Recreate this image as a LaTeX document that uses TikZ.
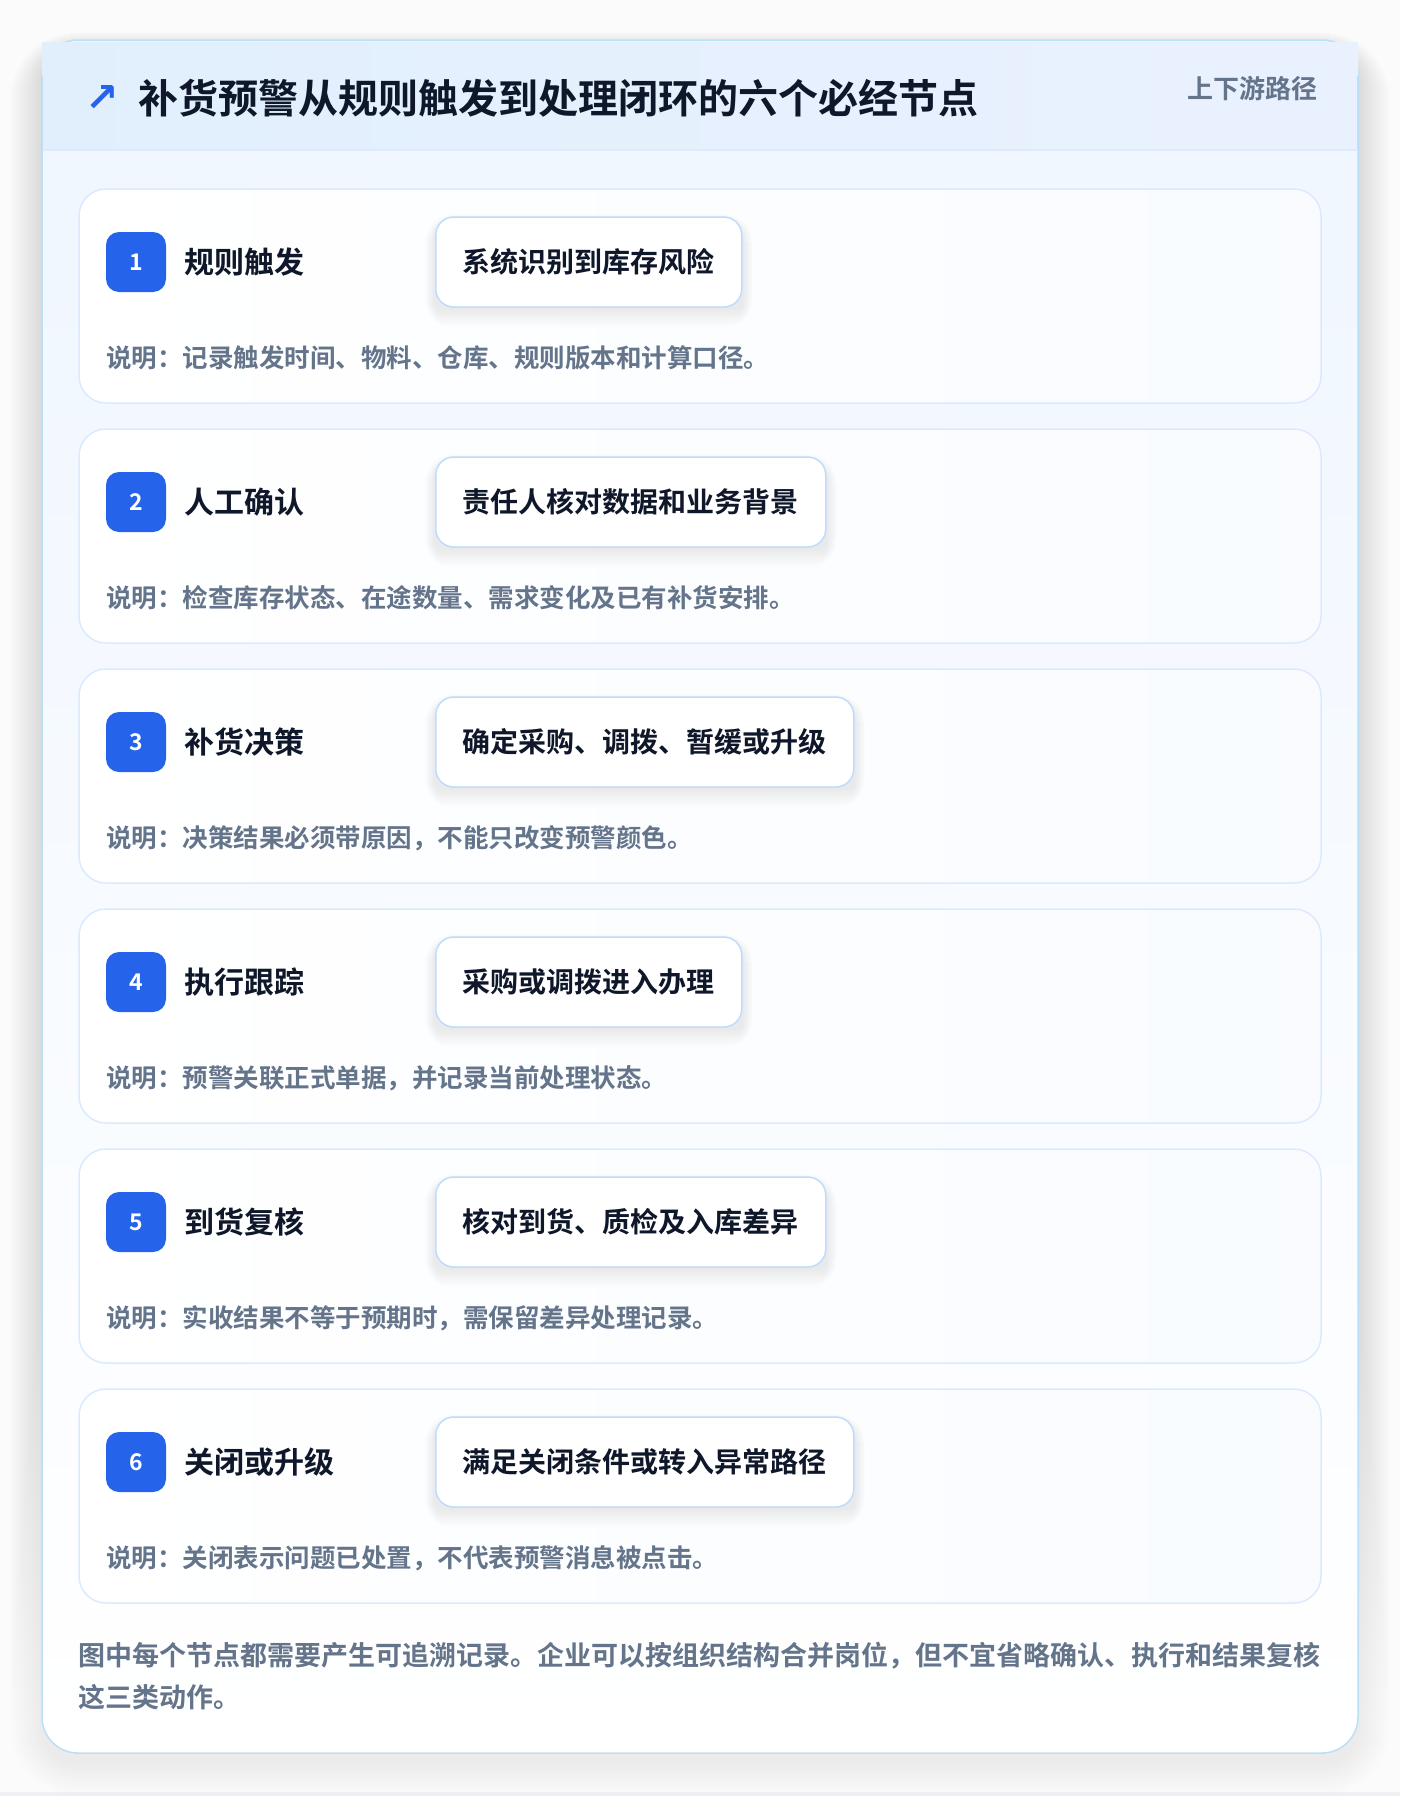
\documentclass[tikz,border=0pt]{standalone}
\usepackage{fontspec}
\setmainfont{Noto Sans CJK SC}[BoldFont={Noto Sans CJK SC Bold}]
\newfontfamily\symfont{DejaVu Sans}
\usetikzlibrary{positioning}

\definecolor{ink}{HTML}{0F172A}
\definecolor{muted}{HTML}{64748B}
\definecolor{brand}{HTML}{2563EB}
\definecolor{cardline}{HTML}{BAE0F7}
\definecolor{headleft}{HTML}{E1EFFD}
\definecolor{headright}{HTML}{EAF1FE}
\definecolor{stepline}{HTML}{DBEAFE}
\definecolor{pillline}{HTML}{BFDBFE}
\definecolor{bodytop}{HTML}{EFF6FF}
\definecolor{pagebg}{HTML}{FBFBFC}
\definecolor{pageedge}{HTML}{EEF0F4}
\definecolor{shade}{HTML}{1E293B}

\pgfdeclarelayer{bg}
\pgfdeclarelayer{glow}
\pgfsetlayers{bg,glow,main}

\tikzset{
  stepcard/.style={draw=stepline, line width=1.5pt, rounded corners=27pt,
    left color=white, right color=white!60!bodytop},
  badge/.style={fill=brand, rounded corners=13pt, minimum size=60pt, inner sep=0pt,
    text=white, font=\fontsize{23pt}{28pt}\selectfont\bfseries},
  stepname/.style={anchor=west, inner sep=0pt, text=ink,
    font=\fontsize{30pt}{36pt}\selectfont\bfseries},
  pill/.style={anchor=west, draw=pillline, line width=1.5pt, fill=white,
    rounded corners=18pt, minimum height=90pt, inner xsep=27pt, text=ink,
    font=\fontsize{28pt}{34pt}\selectfont\bfseries},
  stepnote/.style={anchor=west, inner sep=0pt, text=muted,
    font=\fontsize{25.5pt}{30pt}\selectfont\bfseries},
  footnote/.style={anchor=west, inner sep=0pt, text=muted,
    font=\fontsize{27pt}{32pt}\selectfont\bfseries}
}

\begin{document}
\begin{tikzpicture}[x=1pt,y=-1pt]
\begin{pgfonlayer}{bg}
\fill[pagebg] (0,0) rectangle (1400,1796);
\fill[pageedge] (0,1792) rectangle (1400,1796);
% outer card shadow
\foreach \k in {1,...,16}
  \fill[shade, opacity=0.0045, rounded corners=36pt+2*\k]
    (42-2*\k,40-\k+8) rectangle (1358+2*\k,1753+2*\k+10);
% outer card
\draw[cardline, line width=1.5pt, top color=bodytop, bottom color=white,
  rounded corners=36pt] (42,40) rectangle (1358,1753);
\shade[left color=headleft, right color=headright] (42,42) rectangle (1358,150);
\draw[stepline, line width=1.5pt] (42,150) -- (1358,150);
\draw[cardline, line width=1.5pt] (42,76) -- (42,150) (1358,76) -- (1358,150);
\end{pgfonlayer}
\useasboundingbox (0,0) rectangle (1400,1796);

\node[text=brand, inner sep=0pt, font=\symfont\bfseries\fontsize{40pt}{44pt}\selectfont] (icon) at (102,99) {↗};
\node[anchor=west, inner sep=0pt, text=ink, font=\fontsize{40pt}{48pt}\selectfont\bfseries]
  (title) at (138,98) {补货预警从规则触发到处理闭环的六个必经节点};
\node[anchor=east, inner sep=0pt, text=muted, font=\fontsize{26pt}{32pt}\selectfont\bfseries]
  (route) at (1318,89) {上下游路径};

% six steps
\foreach \i/\name/\act/\note in {
  1/规则触发/系统识别到库存风险/记录触发时间、物料、仓库、规则版本和计算口径。,
  2/人工确认/责任人核对数据和业务背景/检查库存状态、在途数量、需求变化及已有补货安排。,
  3/补货决策/确定采购、调拨、暂缓或升级/决策结果必须带原因，不能只改变预警颜色。,
  4/执行跟踪/采购或调拨进入办理/预警关联正式单据，并记录当前处理状态。,
  5/到货复核/核对到货、质检及入库差异/实收结果不等于预期时，需保留差异处理记录。,
  6/关闭或升级/满足关闭条件或转入异常路径/关闭表示问题已处置，不代表预警消息被点击。}
{
  \pgfmathsetmacro\ytop{189+240*(\i-1)}
  \begin{pgfonlayer}{bg}
    \draw[stepcard] (79,\ytop) rectangle ++(1242,214);
  \end{pgfonlayer}
  \node[badge] (badge\i) at (136,\ytop+73) {\i};
  \node[stepname, right=18pt of badge\i] (name\i) {\name};
  \node[pill] (pill\i) at (435,\ytop+73) {\act};
  \node[stepnote] (note\i) at (106,\ytop+169) {说明：\note};
  % soft shadow under the pill
  \begin{pgfonlayer}{glow}
    \foreach \k in {1,...,10}
      \fill[shade, opacity=0.005, rounded corners=18pt+\k pt]
        ([xshift=-\k pt, yshift=\k pt-8pt]pill\i.north west)
        rectangle ([xshift=\k pt, yshift=-\k pt-10pt]pill\i.south east);
  \end{pgfonlayer}
}

\node[footnote] (foot1) at (78,1656) {图中每个节点都需要产生可追溯记录。企业可以按组织结构合并岗位，但不宜省略确认、执行和结果复核};
\node[footnote] (foot2) at ([yshift=-41pt]foot1.west) {这三类动作。};
\end{tikzpicture}
\end{document}
